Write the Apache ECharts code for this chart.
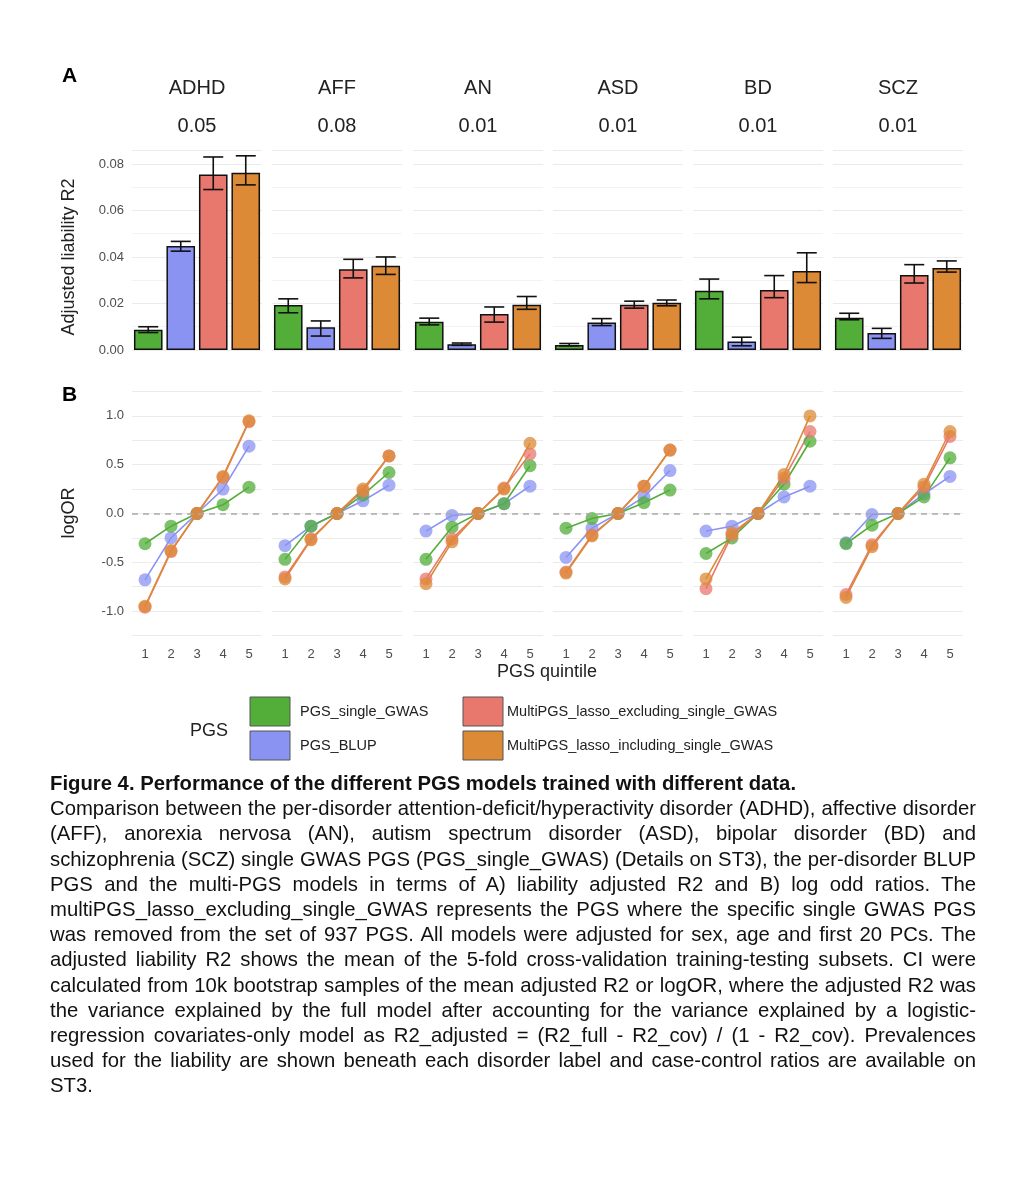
<!DOCTYPE html>
<html><head><meta charset="utf-8">
<script src="https://cdn.jsdelivr.net/npm/echarts@6/dist/echarts.min.js"></script>
<style>
body{margin:0;background:#fff;font-family:"Liberation Sans",Arial,sans-serif;}
#chart{position:absolute;left:0;top:0;width:1028px;height:780px;}
#cap{position:absolute;left:50px;top:771px;width:926px;font-size:20.3px;line-height:25.2px;text-align:justify;color:#111;}
</style></head><body>
<div id="chart"></div>
<div id="cap"><b>Figure 4. Performance of the different PGS models trained with different data.</b><br>Comparison between the per-disorder attention-deficit/hyperactivity disorder (ADHD), affective disorder (AFF), anorexia nervosa (AN), autism spectrum disorder (ASD), bipolar disorder (BD) and schizophrenia (SCZ) single GWAS PGS (PGS_single_GWAS) (Details on ST3), the per-disorder BLUP PGS and the multi-PGS models in terms of A) liability adjusted R2 and B) log odd ratios. The multiPGS_lasso_excluding_single_GWAS represents the PGS where the specific single GWAS PGS was removed from the set of 937 PGS. All models were adjusted for sex, age and first 20 PCs. The adjusted liability R2 shows the mean of the 5-fold cross-validation training-testing subsets. CI were calculated from 10k bootstrap samples of the mean adjusted R2 or logOR, where the adjusted R2 was the variance explained by the full model after accounting for the variance explained by a logistic-regression covariates-only model as R2_adjusted = (R2_full - R2_cov) / (1 - R2_cov). Prevalences used for the liability are shown beneath each disorder label and case-control ratios are available on ST3.</div>
<script>
const disorders = ['ADHD','AFF','AN','ASD','BD','SCZ'];
const prevalence = ['0.05','0.08','0.01','0.01','0.01','0.01'];
const models = ['PGS_single_GWAS','PGS_BLUP','MultiPGS_lasso_excluding_single_GWAS','MultiPGS_lasso_including_single_GWAS'];
const colors = ['#52ae39','#8a93f2','#e8786e','#dc8a35'];
const quintiles = ['1','2','3','4','5'];

// panel A: adjusted liability R2 per disorder, per model
const r2 = [
  [0.0087,0.0447,0.0755,0.0762],
  [0.0193,0.0098,0.0347,0.0362],
  [0.0122,0.0025,0.0155,0.0195],
  [0.0022,0.0118,0.0195,0.0203],
  [0.0255,0.0037,0.0258,0.0340],
  [0.0139,0.0073,0.0322,0.0353]
];
const r2Low = [
  [0.0075,0.0425,0.069,0.071],
  [0.016,0.006,0.031,0.0325],
  [0.0108,0.002,0.012,0.0175],
  [0.0018,0.0105,0.018,0.019],
  [0.022,0.0018,0.0225,0.029],
  [0.013,0.005,0.0288,0.0335]
];
const r2High = [
  [0.010,0.0467,0.083,0.0835],
  [0.022,0.0125,0.039,0.040],
  [0.0137,0.003,0.0185,0.023],
  [0.0028,0.0135,0.021,0.0215],
  [0.0305,0.0055,0.032,0.0418],
  [0.0158,0.0093,0.0367,0.0383]
];
// panel B: logOR per disorder, per model, per quintile
const logOR = [
  [[-0.31,-0.13,0,0.09,0.27],[-0.68,-0.25,0,0.25,0.69],[-0.96,-0.39,0,0.37,0.94],[-0.95,-0.38,0,0.38,0.95]],
  [[-0.47,-0.13,0,0.19,0.42],[-0.33,-0.13,0,0.13,0.29],[-0.65,-0.26,0,0.23,0.59],[-0.67,-0.27,0,0.25,0.59]],
  [[-0.47,-0.14,0,0.10,0.49],[-0.18,-0.02,0,0.10,0.28],[-0.67,-0.26,0,0.26,0.61],[-0.72,-0.29,0,0.25,0.72]],
  [[-0.15,-0.05,0,0.11,0.24],[-0.45,-0.15,0,0.17,0.44],[-0.60,-0.22,0,0.28,0.65],[-0.61,-0.23,0,0.28,0.65]],
  [[-0.41,-0.25,0,0.30,0.74],[-0.18,-0.13,0,0.17,0.28],[-0.77,-0.22,0,0.36,0.84],[-0.67,-0.20,0,0.40,1.00]],
  [[-0.31,-0.12,0,0.17,0.57],[-0.30,-0.01,0,0.20,0.38],[-0.83,-0.32,0,0.27,0.79],[-0.86,-0.34,0,0.30,0.84]]
];

const lefts = [132,272,413,553,693,833];
const W = 130;
const gridLine = {show:true,lineStyle:{color:'#ebebeb',width:1}};
const grids=[], xAxes=[], yAxes=[], series=[], graphics=[];

disorders.forEach((d,f)=>{
  // A
  grids.push({left:lefts[f],width:W,top:150,height:200});
  xAxes.push({gridIndex:2*f,type:'category',data:models,axisLabel:{show:false},axisTick:{show:false},axisLine:{show:false},splitLine:{show:false}});
  yAxes.push({gridIndex:2*f,type:'value',min:0,max:0.086,interval:0.02,
    axisLabel:{show:f===0,color:'#4d4d4d',fontSize:13,showMaxLabel:false,formatter:v=>v.toFixed(2)},
    axisLine:{show:false},axisTick:{show:false},splitLine:gridLine,
    minorTick:{show:false,splitNumber:2},minorSplitLine:{show:true,lineStyle:{color:'#f3f3f3'}}});
  series.push({type:'bar',xAxisIndex:2*f,yAxisIndex:2*f,barWidth:'88%',
    data:r2[f].map((v,i)=>({value:v,itemStyle:{color:colors[i],borderColor:'#111',borderWidth:1.5}}))});
  series.push({type:'custom',xAxisIndex:2*f,yAxisIndex:2*f,z:5,
    data:r2[f].map((v,i)=>[i,r2Low[f][i],r2High[f][i]]),
    renderItem:(p,api)=>{
      const a=api.coord([api.value(0),api.value(1)]), b=api.coord([api.value(0),api.value(2)]);
      const h=10, st={stroke:'#111',lineWidth:1.6};
      return {type:'group',children:[
        {type:'line',shape:{x1:a[0],y1:a[1],x2:b[0],y2:b[1]},style:st},
        {type:'line',shape:{x1:a[0]-h,y1:a[1],x2:a[0]+h,y2:a[1]},style:st},
        {type:'line',shape:{x1:b[0]-h,y1:b[1],x2:b[0]+h,y2:b[1]},style:st}]};
    }});
  // B
  grids.push({left:lefts[f],width:W,top:391.5,height:244});
  xAxes.push({gridIndex:2*f+1,type:'category',data:quintiles,boundaryGap:true,
    axisLabel:{color:'#4d4d4d',fontSize:13,margin:12},axisTick:{show:false},axisLine:{show:false},
    splitLine:{show:false}});
  yAxes.push({gridIndex:2*f+1,type:'value',min:-1.25,max:1.25,interval:0.25,
    axisLabel:{show:f===0,color:'#4d4d4d',fontSize:13,
      formatter:v=>Math.abs(v*2-Math.round(v*2))<1e-6?v.toFixed(1):''},
    axisLine:{show:false},axisTick:{show:false},splitLine:gridLine});
  [1,0,2,3].forEach(m=>{
    series.push({type:'line',xAxisIndex:2*f+1,yAxisIndex:2*f+1,data:logOR[f][m],
      symbol:'circle',symbolSize:13,lineStyle:{color:colors[m],width:1.6},
      itemStyle:{color:colors[m],opacity:0.75},
      markLine:m===1?{silent:true,symbol:'none',label:{show:false},
        lineStyle:{color:'#aaaaaa',type:[6,5],width:1.6},data:[{yAxis:0}]}:undefined});
  });
  const cx=lefts[f]+W/2;
  graphics.push({type:'text',x:cx,y:78,style:{text:d,fontSize:20,fill:'#222',align:'center',fontFamily:'Liberation Sans'}});
  graphics.push({type:'text',x:cx,y:116,style:{text:prevalence[f],fontSize:20,fill:'#222',align:'center',fontFamily:'Liberation Sans'}});
});

graphics.push({type:'text',x:62,y:66,style:{text:'A',fontSize:21,fontWeight:'bold',fill:'#000'}});
graphics.push({type:'text',x:62,y:385,style:{text:'B',fontSize:21,fontWeight:'bold',fill:'#000'}});
graphics.push({type:'text',x:60,y:257,rotation:Math.PI/2,style:{text:'Adjusted liability R2',fontSize:18,fill:'#222',align:'center',verticalAlign:'top'}});
graphics.push({type:'text',x:60,y:513,rotation:Math.PI/2,style:{text:'logOR',fontSize:18,fill:'#222',align:'center',verticalAlign:'top'}});
graphics.push({type:'text',x:547,y:663,style:{text:'PGS quintile',fontSize:18,fill:'#222',align:'center'}});
graphics.push({type:'text',x:190,y:722,style:{text:'PGS',fontSize:18,fill:'#222'}});
const legPos=[[250,697],[250,731],[463,697],[463,731]];
models.forEach((m,i)=>{
  const [x,y]=legPos[i];
  graphics.push({type:'rect',shape:{x:x,y:y,width:40,height:29},style:{fill:colors[i],stroke:'#555',lineWidth:1}});
  graphics.push({type:'text',x:x+(i<2?50:44),y:y+7,style:{text:m,fontSize:14.5,fill:'#222'}});
});

const chart=echarts.init(document.getElementById('chart'));
chart.setOption({animation:false,backgroundColor:'#fff',grid:grids,xAxis:xAxes,yAxis:yAxes,series:series,graphic:graphics});
</script></body></html>
